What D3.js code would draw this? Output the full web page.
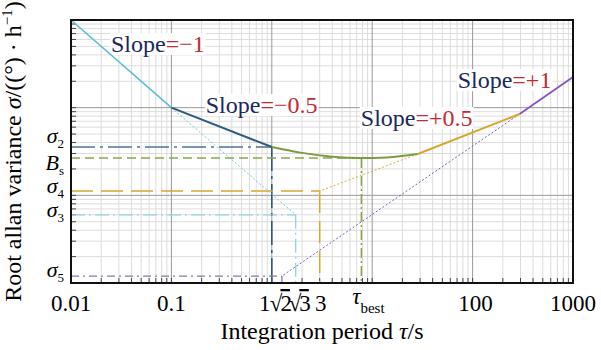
<!DOCTYPE html>
<html>
<head>
<meta charset="utf-8">
<style>
  body { margin: 0; background: #fff; }
  text { font-family: "Liberation Serif", "Times New Roman", Times, "DejaVu Serif", serif; }
  .grid-minor { stroke: #dcdcdc; stroke-width: 1; }
  .grid-major { stroke: #999; stroke-width: 1; }
  .frame { fill: none; stroke: #111; stroke-width: 2; }
  .tick { stroke: #444; stroke-width: 1; }
  .curve { fill: none; }
</style>
</head>
<body>
<svg width="601" height="350"></svg>
<script src="https://cdn.jsdelivr.net/npm/d3@7"></script>
<script>

// tick labels on the tau axis
var tauTicks  = [0.01, 0.1, 1, 1.414, 1.732, 3, 7.8, 100, 1000];
var tauLabels = ["0.01", "0.1", "1", "√2", "√3", "3", "τbest", "100", "1000"];

// allan deviation curve, piece by piece (tau, sigma)
var slopeM1  = [[0.01, 1000], [0.1, 100]];
var slopeM05 = [[0.1, 100], [1, 35.6]];
var flatPart = [[1, 35.6], [2, 30.5], [4, 27.6], [7.5, 26.7], [14, 27.1], [28.4, 29.6]];
var slopeP05 = [[28.4, 29.6], [294, 84.7]];
var slopeP1  = [[294, 84.7], [1000, 224]];

// dotted extensions of the asymptotes
var extM1  = [[0.1, 100], [1.73, 6.0]];
var extP05 = [[28.4, 29.6], [3, 11.2]];
var extP1  = [[294, 84.7], [1.26, 1.2]];

var levelSymbols = ["σ", "B", "σ", "σ", "σ"];
var levelSubs    = ["2", "s", "4", "3", "5"];
var levelValues  = [35.6, 26.7, 11.2, 6.0, 1.2];
var levelTau     = [1, 7.8, 3, 1.73, 1.26];

// slope annotations
var slopeNames  = ["=−1", "=−0.5", "=+0.5", "=+1"];
var slopeTau    = [0.025, 0.22, 7.7, 71];
var slopeSigma  = [431, 86.9, 61.8, 167];

var svg = d3.select("svg"),
    margin = {top: 20, right: 28, bottom: 67, left: 71},
    width = +svg.attr("width") - margin.left - margin.right,
    height = +svg.attr("height") - margin.top - margin.bottom;

var x = d3.scaleLog().domain([0.01, 1000]).range([0, width]);
var y = d3.scaleLog().domain([1, 1000]).range([height, 0]);

var g = svg.append("g")
    .attr("transform", "translate(" + margin.left + "," + margin.top + ")");

function logSteps(lo, hi) {
  var out = [];
  for (var e = Math.round(Math.log10(lo)); e < Math.round(Math.log10(hi)); e++) {
    for (var k = 1; k < 10; k++) {
      var v = k * Math.pow(10, e);
      if (k === 1 && e === Math.round(Math.log10(lo))) continue;
      out.push({v: v, major: k === 1});
    }
  }
  return out;
}
var xs = logSteps(0.01, 1000), ys = logSteps(1, 1000);

// grid, minor first then major on top
var grid = g.append("g");
grid.selectAll(".vx").data(xs.filter(function(d) { return !d.major; })).enter().append("line")
  .attr("class", "grid-minor")
  .attr("x1", function(d) { return x(d.v); }).attr("x2", function(d) { return x(d.v); })
  .attr("y1", 0).attr("y2", height);
grid.selectAll(".hy").data(ys.filter(function(d) { return !d.major; })).enter().append("line")
  .attr("class", "grid-minor")
  .attr("y1", function(d) { return y(d.v); }).attr("y2", function(d) { return y(d.v); })
  .attr("x1", 0).attr("x2", width);
grid.selectAll(".vxm").data(xs.filter(function(d) { return d.major; })).enter().append("line")
  .attr("class", "grid-major")
  .attr("x1", function(d) { return x(d.v); }).attr("x2", function(d) { return x(d.v); })
  .attr("y1", 0).attr("y2", height);
grid.selectAll(".hym").data(ys.filter(function(d) { return d.major; })).enter().append("line")
  .attr("class", "grid-major")
  .attr("y1", function(d) { return y(d.v); }).attr("y2", function(d) { return y(d.v); })
  .attr("x1", 0).attr("x2", width);

// inward ticks on bottom and left
grid.selectAll(".tx").data(xs).enter().append("line")
  .attr("class", "tick")
  .attr("x1", function(d) { return x(d.v); }).attr("x2", function(d) { return x(d.v); })
  .attr("y1", height).attr("y2", height - 5);
grid.selectAll(".ty").data(ys).enter().append("line")
  .attr("class", "tick")
  .attr("y1", function(d) { return y(d.v); }).attr("y2", function(d) { return y(d.v); })
  .attr("x1", 0).attr("x2", 5);

var bgLayer = g.append("g");

var line = d3.line()
  .x(function(d) { return x(d[0]); })
  .y(function(d) { return y(d[1]); });

// reference levels: horizontal + vertical
var levelStyle = [
  {color: "#4a7592", vcolor: "#2c5a78", dash: "24,5,3,5", w: 1.6},
  {color: "#8aa64a", vcolor: "#8aa64a", dash: "9,5", vdash: "10,3,2,3", w: 1.5},
  {color: "#d9a733", vcolor: "#d9a733", dash: "22,8", w: 1.5},
  {color: "#93d2e0", vcolor: "#93d2e0", dash: "14,4,2,4", w: 1.3},
  {color: "#8575ba", vcolor: "#8575ba", dash: "8,4,2,4", w: 1.3}
];
var refs = g.append("g");
levelValues.forEach(function(v, i) {
  var s = levelStyle[i];
  refs.append("path").attr("class", "curve")
    .attr("d", line([[0.01, v], [levelTau[i], v]]))
    .attr("stroke", s.color).attr("stroke-width", s.w).attr("stroke-dasharray", s.dash);
  refs.append("path").attr("class", "curve")
    .attr("d", line([[levelTau[i], v], [levelTau[i], 1]]))
    .attr("stroke", s.vcolor).attr("stroke-width", s.w).attr("stroke-dasharray", s.vdash || s.dash);
});

// dotted extensions
[[extM1, "#7cc6dc"], [extP05, "#d9ae3a"], [extP1, "#7a62b8"]].forEach(function(p) {
  g.append("path").attr("class", "curve")
    .attr("d", line(p[0]))
    .attr("stroke", p[1]).attr("stroke-width", 1).attr("stroke-dasharray", "2,2");
});

// the main curve
var smooth = d3.line().curve(d3.curveMonotoneX)
  .x(function(d) { return x(d[0]); })
  .y(function(d) { return y(d[1]); });
[[slopeM1, "#5bbbd3", 1.5, line], [slopeM05, "#2f5c7a", 2, line], [flatPart, "#7b9b45", 2, smooth],
 [slopeP05, "#d6a730", 2, line], [slopeP1, "#8653c2", 1.8, line]].forEach(function(p) {
  g.append("path").attr("class", "curve")
    .attr("d", p[3](p[0]))
    .attr("stroke", p[1]).attr("stroke-width", p[2]);
});

g.append("rect").attr("class", "frame").attr("width", width).attr("height", height);

// slope labels with white backing
slopeNames.forEach(function(s, i) {
  var t = g.append("text")
    .attr("x", x(slopeTau[i])).attr("y", y(slopeSigma[i]))
    .attr("font-size", 24);
  t.append("tspan").attr("fill", "#1a285c").text("Slope");
  t.append("tspan").attr("fill", "#c42a32").text(s);
  var b = t.node().getBBox();
  bgLayer.append("rect")
    .attr("x", b.x - 1).attr("y", b.y + 2).attr("width", b.width + 2).attr("height", b.height - 4)
    .attr("fill", "#fff");
});

// level labels on the left
var levelDy = [-4, 12, 2, 2, 1];
levelSymbols.forEach(function(s, i) {
  var t = svg.append("text")
    .attr("x", margin.left - 7).attr("y", margin.top + y(levelValues[i]) + levelDy[i])
    .attr("text-anchor", "end").attr("font-size", 22).attr("fill", "#000");
  t.append("tspan").attr("font-style", "italic").text(s);
  t.append("tspan").attr("font-size", 13).attr("dy", 5).text(levelSubs[i]);
});

// tau tick labels
var labelDx = {"1": -7, "√2": -7, "√3": 3, "3": 1, "τbest": 7, "100": 3};
tauTicks.forEach(function(v, i) {
  var lab = tauLabels[i];
  var t = svg.append("text")
    .attr("x", margin.left + x(v) + (labelDx[lab] || 0))
    .attr("y", margin.top + height + 28)
    .attr("text-anchor", "middle").attr("font-size", 23).attr("fill", "#000");
  if (lab === "τbest") {
    t.append("tspan").attr("font-style", "italic").attr("dy", -7).text("τ");
    t.append("tspan").attr("font-size", 15).attr("dy", 9).text("best");
  } else if (lab.charAt(0) === "√") {
    t.attr("letter-spacing", -2);
    t.append("tspan").text("√");
    t.append("tspan").style("text-decoration", "overline").text(lab.slice(1));
  } else {
    t.text(lab);
  }
});

// axis titles
var xt = svg.append("text")
  .attr("x", margin.left + width / 2).attr("y", 339)
  .attr("text-anchor", "middle").attr("font-size", 24).attr("fill", "#000");
xt.append("tspan").text("Integration period ");
xt.append("tspan").attr("font-style", "italic").text("τ");
xt.append("tspan").text("/s");

var yt = svg.append("text")
  .attr("transform", "translate(21," + (margin.top + height / 2) + ") rotate(-90)")
  .attr("text-anchor", "middle").attr("font-size", 24).attr("fill", "#000");
yt.append("tspan").text("Root allan variance ");
yt.append("tspan").attr("font-style", "italic").text("σ");
yt.append("tspan").text("/((°) · h");
yt.append("tspan").attr("font-size", 15).attr("dy", -9).text("−1");
yt.append("tspan").attr("dy", 9).text(")");

</script>
</body>
</html>
